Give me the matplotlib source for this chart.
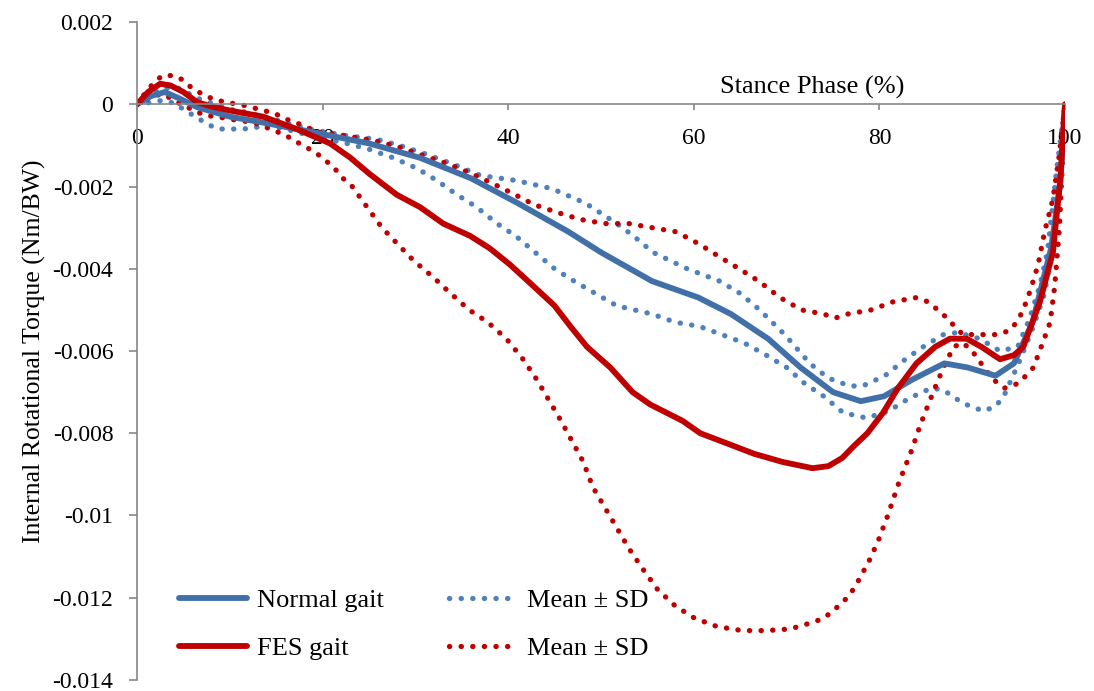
import matplotlib
matplotlib.use("Agg")
import matplotlib.pyplot as plt

plt.rcParams['font.family'] = ['Liberation Serif', 'DejaVu Serif']

# stance phase (%) and torque (Nm/BW)
normal_x = [0, 1.5, 3, 4.5, 6.5, 10, 13.5, 19, 25, 30.5, 36, 41, 46.5, 50, 55.5, 60.5, 64,
            68, 71.5, 75, 78, 80.5, 83.5, 87, 89.5, 92.5, 94.5, 96.5, 98.5, 99.5, 100]
normal_y = [0, 0.0002, 0.0003, 0.00015, -0.00007, -0.0003, -0.00044, -0.00068, -0.00095,
            -0.0013, -0.0018, -0.0024, -0.0031, -0.0036, -0.0043, -0.0047, -0.0051, -0.0057,
            -0.0064, -0.0070, -0.00722, -0.0071, -0.0067, -0.0063, -0.0064, -0.0066, -0.0063,
            -0.0053, -0.0035, -0.0019, 0]

normal_up_x = [0, 1.5, 3, 4.4, 5.7, 7, 8.5, 10, 12, 14, 16.5, 19, 22.2, 25.8, 28.3, 31, 34,
               37, 40.8, 44.7, 48.3, 51.7, 53.5, 55.6, 59.3, 62.8, 65, 67.1, 69.8, 72.5, 74.5,
               76.8, 78.2, 80.6, 82.8, 84.7, 86.9, 88.4, 90.8, 93, 94.9, 96.2, 97.3, 98.1,
               99.1, 100]
normal_up_y = [0, 0.00025, 0.0004, 0.0004, 0.00025, 0.0001, 0.0, -0.00012, -0.0002, -0.00032,
               -0.00048, -0.00062, -0.00075, -0.00085, -0.001, -0.0012, -0.00145, -0.00173,
               -0.00185, -0.00205, -0.0024, -0.0029, -0.0032, -0.0036, -0.004, -0.0043,
               -0.0046, -0.005, -0.0056, -0.0063, -0.00666, -0.00685, -0.00685, -0.0066,
               -0.0062, -0.0059, -0.0056, -0.00555, -0.0057, -0.006, -0.0059, -0.0052,
               -0.0044, -0.0036, -0.0016, 0]

normal_lo_x = [0, 1.6, 2.8, 4.1, 5.2, 6.3, 7.5, 8.7, 11.3, 12.5, 13.8, 16, 19, 22.6, 25.1,
               27.6, 30.2, 32.3, 34.5, 36.6, 38.8, 40.8, 42.9, 45, 47.1, 49.4, 51.7, 55.5,
               58, 60.6, 63, 65.4, 67.8, 70, 72, 74, 76.1, 78.6, 81, 83.2, 85.6, 86.9, 89,
               91.2, 92.5, 93.4, 95, 96.6, 97.8, 98.4, 99.1, 99.5, 100]
normal_lo_y = [0, 0.00005, 0.0001, 0.00002, -0.00015, -0.0003, -0.00047, -0.0006, -0.0006,
               -0.00058, -0.0005, -0.0006, -0.00078, -0.00095, -0.0011, -0.0013, -0.00156,
               -0.00185, -0.0022, -0.0025, -0.0029, -0.0032, -0.0036, -0.004, -0.0043,
               -0.0046, -0.0049, -0.0051, -0.0053, -0.0054, -0.0056, -0.0058, -0.0061,
               -0.0064, -0.0068, -0.0071, -0.0075, -0.00763, -0.00746, -0.00715, -0.0069,
               -0.00695, -0.00727, -0.00746, -0.00735, -0.0071, -0.0063, -0.0054, -0.0046,
               -0.0038, -0.0027, -0.0019, 0]

fes_x = [0, 1.2, 2.5, 3.6, 5, 6.5, 8, 10, 13.6, 17.2, 20.8, 23, 25.1, 28, 30.5, 33, 35.9,
         38, 40.2, 43.1, 45, 46.7, 48.5, 50, 51, 53.4, 55.3, 58.8, 60.7, 64.2, 66.5, 69.6,
         72.8, 74.5, 76, 77.3, 78.7, 80.4, 82, 84, 86, 87.6, 89.4, 91, 93, 94.5, 95.5, 97.3,
         98.7, 99.5, 100]
fes_y = [0, 0.0003, 0.0005, 0.00046, 0.0003, 0.00005, -0.00005, -0.00015, -0.0003, -0.0006,
         -0.00095, -0.0013, -0.0017, -0.0022, -0.0025, -0.0029, -0.0032, -0.0035, -0.0039,
         -0.0045, -0.0049, -0.0054, -0.0059, -0.0062, -0.0064, -0.0070, -0.0073, -0.0077,
         -0.0080, -0.0083, -0.0085, -0.0087, -0.00885, -0.0088, -0.0086, -0.0083, -0.0080,
         -0.0075, -0.0069, -0.0063, -0.0059, -0.0057, -0.0057, -0.0059, -0.0062, -0.0061,
         -0.0059, -0.0048, -0.0036, -0.0018, 0]

fes_up_x = [0, 1.3, 2.7, 3.9, 4.9, 5.9, 7.1, 8.3, 9.6, 10.9, 12.1, 13.5, 14.7, 15.8, 17.1,
            18.3, 19.6, 22.1, 24.7, 25.9, 28.4, 30.8, 33.4, 35.8, 38.1, 40.5, 42.8, 45.3,
            47.8, 50.4, 53, 55.5, 58.1, 60.6, 62.7, 64.9, 67, 69.3, 71.6, 74, 75.2, 76.6,
            79.1, 81.5, 84, 85.2, 86.3, 87.3, 88.1, 89, 90.1, 91.5, 92.8, 94, 94.8, 95.5,
            96.3, 97.1, 97.8, 98.7, 99.4, 100]
fes_up_y = [0, 0.0004, 0.0007, 0.0007, 0.0006, 0.0004, 0.00024, 0.00012, 0.00005, 0.0,
            -0.00005, -0.00015, -0.0002, -0.00034, -0.00044, -0.00056, -0.00068, -0.00075,
            -0.00085, -0.0009, -0.00105, -0.00124, -0.00144, -0.00166, -0.0019, -0.00217,
            -0.00244, -0.00263, -0.0028, -0.0029, -0.0029, -0.003, -0.0031, -0.0034, -0.0037,
            -0.004, -0.0043, -0.0047, -0.005, -0.0051, -0.0052, -0.0051, -0.005, -0.0048,
            -0.0047, -0.0048, -0.005, -0.0052, -0.0054, -0.0056, -0.0056, -0.0056, -0.0056,
            -0.0055, -0.0053, -0.005, -0.0045, -0.0039, -0.0031, -0.0023, -0.0012, 0]

fes_lo_x = [0, 1.3, 2.7, 3.6, 4.9, 5.9, 7.3, 8.6, 9.8, 11.1, 12.4, 13.6, 14.7, 16, 17.1,
            18.3, 19.4, 20.5, 21.3, 22.2, 23.2, 24.8, 26.4, 28.1, 29.8, 31.9, 33.8, 35.8,
            37.8, 39.8, 41.6, 43.1, 44.4, 45.7, 46.9, 48.1, 49.1, 50.4, 51.7, 53, 54.5, 56.1,
            58, 60.1, 62.5, 65.2, 67.8, 70.4, 72.8, 74, 75.1, 76.1, 76.9, 77.7, 78.9, 79.9,
            80.9, 82.1, 83.5, 84.4, 85.8, 86.9, 88, 89, 90, 91.6, 92.3, 93.5, 94.8, 95.8,
            96.6, 97.6, 98.4, 98.9, 99.4, 100]
fes_lo_y = [0, 0.00015, 0.00026, 0.00015, -0.00002, -0.00012, -0.00027, -0.0003, -0.00035,
            -0.0004, -0.00043, -0.00053, -0.00063, -0.00075, -0.0009, -0.00105, -0.0012,
            -0.0014, -0.00156, -0.0018, -0.002, -0.0025, -0.003, -0.0034, -0.0038, -0.0042,
            -0.0046, -0.005, -0.0053, -0.0057, -0.0062, -0.0067, -0.0072, -0.0077, -0.0082,
            -0.0087, -0.0093, -0.0098, -0.0103, -0.0108, -0.0113, -0.0118, -0.0122, -0.0125,
            -0.0127, -0.0128, -0.0128, -0.01276, -0.0126, -0.0125, -0.0123, -0.0121, -0.0119,
            -0.0116, -0.0111, -0.0106, -0.01, -0.0092, -0.0084, -0.0078, -0.007, -0.0064,
            -0.0059, -0.0058, -0.006, -0.0065, -0.0067, -0.0069, -0.0068, -0.0066, -0.0064,
            -0.0058, -0.0053, -0.0044, -0.003, 0]

y_ticks = [0.002, 0, -0.002, -0.004, -0.006, -0.008, -0.01, -0.012, -0.014]
y_tick_labels = ['0.002', '0', '-0.002', '-0.004', '-0.006', '-0.008', '-0.01', '-0.012', '-0.014']
x_ticks = [0, 20, 40, 60, 80, 100]

blue = '#4170A8'
blue_dot = '#4F81BD'
red = '#C00000'
grey = '#868686'

fig = plt.figure(figsize=(10.94, 6.91), dpi=100)
ax = fig.add_axes([0.1252, 0.016, 0.8483, 0.952])

dots = (0.05, 2.15)
dot_kw = dict(lw=3.8, linestyle=(0, dots), dash_capstyle='round')
solid_kw = dict(lw=4.2, solid_capstyle='round', solid_joinstyle='round')
ax.plot(normal_up_x, normal_up_y, color=blue_dot, **dot_kw)
ax.plot(normal_lo_x, normal_lo_y, color=blue_dot, **dot_kw)
ax.plot(fes_up_x, fes_up_y, color=red, **dot_kw)
ax.plot(fes_lo_x, fes_lo_y, color=red, **dot_kw)
ax.plot(normal_x, normal_y, color=blue, **solid_kw)
ax.plot(fes_x, fes_y, color=red, **solid_kw)

# legend handles
h1, = ax.plot([], [], color=blue, **solid_kw)
h2, = ax.plot([], [], color=red, **solid_kw)
h3, = ax.plot([], [], color=blue_dot, **dot_kw)
h4, = ax.plot([], [], color=red, **dot_kw)

ax.set_xlim(0, 100)
ax.set_ylim(-0.014, 0.002)

ax.spines['right'].set_visible(False)
ax.spines['top'].set_visible(False)
ax.spines['bottom'].set_position(('data', 0))
ax.spines['left'].set_color(grey)
ax.spines['bottom'].set_color(grey)
ax.spines['left'].set_linewidth(1.2)
ax.spines['bottom'].set_linewidth(1.2)

ax.set_yticks(y_ticks)
ax.set_yticklabels(y_tick_labels)
ax.set_xticks(x_ticks)
ax.tick_params(axis='y', direction='out', length=6, width=1.2, color=grey, pad=11,
               labelsize=17)
ax.tick_params(axis='x', direction='out', length=4, width=1.2, color=grey, pad=13,
               labelsize=17)

ax.text(72.8, 0.00012, 'Stance Phase (%)', ha='center', va='bottom', fontsize=19)
ax.set_ylabel('Internal Rotational Torque (Nm/BW)', fontsize=18.5, labelpad=5)

ax.legend([h1, h2, h3, h4], ['Normal gait', 'FES gait', 'Mean \u00b1 SD', 'Mean \u00b1 SD'],
          ncol=2, loc='lower left', bbox_to_anchor=(0.045, 0.03), frameon=False,
          fontsize=19, handlelength=2.6, handletextpad=0.35, columnspacing=2.5,
          labelspacing=0.92, borderpad=0, borderaxespad=0)

fig.savefig('out.png', dpi=100)
